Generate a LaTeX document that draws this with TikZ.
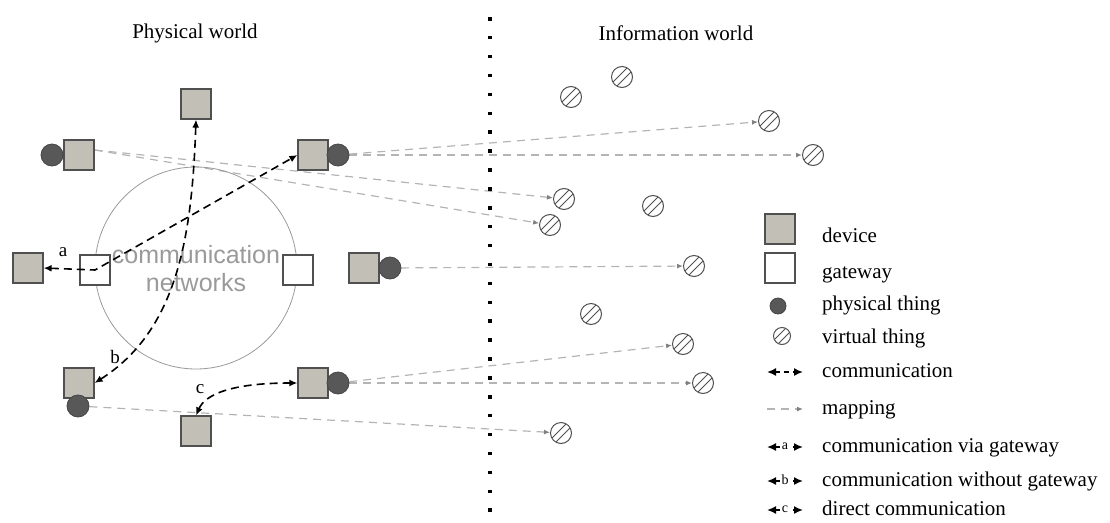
\documentclass[tikz,border=0pt]{standalone}
\usepackage{fontspec}
\setmainfont{Liberation Serif}
\newfontfamily\netfont{Liberation Sans}
\usetikzlibrary{arrows.meta,backgrounds}
\definecolor{devfill}{HTML}{C2BFB7}
\definecolor{devdraw}{HTML}{505050}
\definecolor{physfill}{HTML}{585858}
\definecolor{mapcol}{HTML}{B4B4B4}
\definecolor{netcol}{HTML}{9A9A9A}
\begin{document}
\begin{tikzpicture}[x=1pt,y=-1pt,
  device/.style={rectangle, minimum size=30pt, inner sep=0pt, fill=devfill, draw=devdraw, line width=1.2pt},
  gateway/.style={device, fill=white},
  phys/.style={circle, minimum size=22pt, inner sep=0pt, fill=physfill, draw=physfill!80!black, line width=0.8pt},
  virt/.style={circle, minimum size=21pt, inner sep=0pt, fill=white, draw=devdraw, line width=1pt,
    path picture={\draw[devdraw, line width=1pt]
      (path picture bounding box.center) +(-8,12) -- +(12,-8)
      (path picture bounding box.center) +(-12,8) -- +(8,-12);}},
  comm/.style={draw=black, line width=1.6pt, dash pattern=on 8pt off 5pt,
    {Latex[length=8pt,width=7pt]}-{Latex[length=8pt,width=7pt]}},
  map/.style={draw=mapcol, line width=1.2pt, dash pattern=on 8pt off 6pt,
    -{Latex[length=6pt,width=5pt,color=gray]}},
  txt/.style={font=\fontsize{21}{25}\selectfont, inner sep=0pt},
  lettr/.style={font=\fontsize{19}{22}\selectfont, inner sep=0pt},
  legtxt/.style={txt, anchor=base west},
  leglet/.style={font=\fontsize{14}{16}\selectfont, fill=white, inner sep=0.5pt},
  legcomm/.style={comm, dash pattern=on 5pt off 4pt, {Latex[length=9pt,width=8pt]}-{Latex[length=9pt,width=8pt]}}
]
\useasboundingbox (0,0) rectangle (1110,522);

% titles
\node[txt] (tphys) at (195,33) {Physical world};
\node[txt] (tinfo) at (676,33) {Information world};

% separator
\draw[line width=3.5pt, dash pattern=on 3.5pt off 15.4pt] (490,17) -- (490,522);

% network
\node[circle, draw=netcol, line width=0.8pt, minimum size=202pt, inner sep=0pt] (net) at (196,268) {};
\node[font=\netfont\fontsize{25}{28}\selectfont, text=netcol, align=center, inner sep=0pt] (nettxt) at (196,269) {communication\\networks};

% devices and things
\node[device] (dtop) at (196,104) {};
\node[device] (dtl) at (79,155) {};
\node[phys] (ptl) at (52,155) {};
\node[device] (dtr) at (313,155) {};
\node[phys] (ptr) at (338,155) {};
\node[device] (dl) at (28,268) {};
\node[gateway] (gwl) at (95,270) {};
\node[gateway] (gwr) at (298,270) {};
\node[device] (dm) at (364,268) {};
\node[phys] (pm) at (390,268) {};
\node[device] (dbl) at (79,383) {};
\node[phys] (pbl) at (78,406) {};
\node[device] (dbr) at (313,383) {};
\node[phys] (pbr) at (338,383) {};
\node[device] (dbot) at (196,431) {};

% virtual things
\node[virt] (v1) at (571,97) {};
\node[virt] (v2) at (622,77) {};
\node[virt] (v3) at (769,121) {};
\node[virt] (v4) at (813,155) {};
\node[virt] (v5) at (564,199) {};
\node[virt] (v6) at (653,206) {};
\node[virt] (v7) at (550,225) {};
\node[virt] (v8) at (694,266) {};
\node[virt] (v9) at (591,314) {};
\node[virt] (v10) at (683,344) {};
\node[virt] (v11) at (703,383) {};
\node[virt] (v12) at (561,433) {};

% mapping
\begin{scope}[on background layer]
\draw[map] ([yshift=5pt]dtl.east) -- (v5);
\draw[map] ([yshift=5pt]dtl.east) -- (v7);
\draw[map] (ptr) -- (v3);
\draw[map] (ptr) -- (v4);
\draw[map] (pm) -- (v8);
\draw[map] (pbr) -- (v10);
\draw[map] (pbr) -- (v11);
\draw[map] (pbl) -- (v12);
\end{scope}

% communication
\draw[comm] (dl.east) -- (gwl.center) -- (dtr.west);
\draw[comm] (dtop.south) .. controls (192,235) and (178,330) .. (dbl.east);
\draw[comm] (dbot.north) .. controls (205,395) and (230,383) .. (dbr.west);
\node[lettr] (la) at (63,252) {a};
\node[lettr] (lb) at (115,357) {b};
\node[lettr] (lc) at (200,389) {c};

% legend
\node[device] (ldev) at (780,229) {};
\node[legtxt] (tdev) at (822,242) {device};
\node[gateway] (lgw) at (780,268) {};
\node[legtxt] (tgw) at (822,278) {gateway};
\node[phys, minimum size=16pt] (lph) at (778,306) {};
\node[legtxt] (tph) at (822,310) {physical thing};
\node[virt, minimum size=17pt] (lvt) at (782,336) {};
\node[legtxt] (tvt) at (822,343) {virtual thing};

\coordinate (c1a) at (767,372); \coordinate (c1b) at (803,372);
\draw[legcomm] (c1a) -- (c1b);
\node[legtxt] (tc1) at (822,377) {communication};

\coordinate (m1a) at (767,409); \coordinate (m1b) at (803,409);
\draw[map] (m1a) -- (m1b);
\node[legtxt] (tm1) at (822,414) {mapping};

\coordinate (a1a) at (767,447); \coordinate (a1b) at (803,447);
\draw[legcomm] (a1a) -- (a1b);
\node[leglet] (ala) at (785,446) {a};
\node[legtxt] (ta1) at (822,452) {communication via gateway};

\coordinate (b1a) at (767,481); \coordinate (b1b) at (803,481);
\draw[legcomm] (b1a) -- (b1b);
\node[leglet] (alb) at (785,480) {b};
\node[legtxt] (tb1) at (822,486) {communication without gateway};

\coordinate (d1a) at (767,510); \coordinate (d1b) at (803,510);
\draw[legcomm] (d1a) -- (d1b);
\node[leglet] (alc) at (785,509) {c};
\node[legtxt] (tc1b) at (822,515) {direct communication};
\end{tikzpicture}
\end{document}
